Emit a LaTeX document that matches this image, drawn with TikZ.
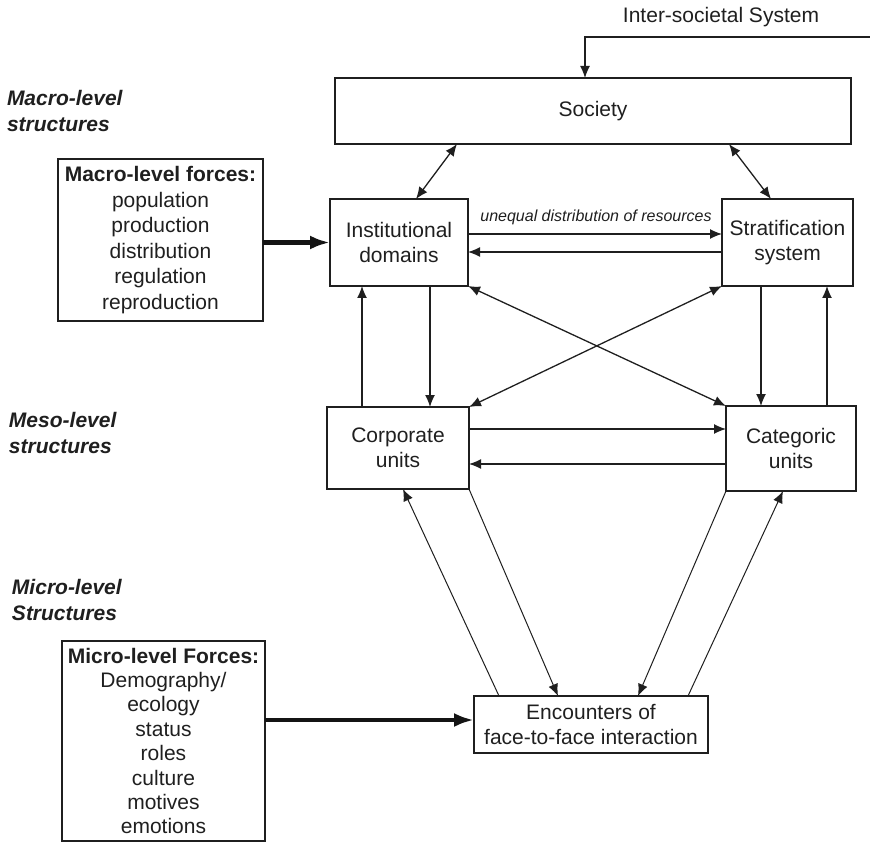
\documentclass[tikz,border=0pt]{standalone}
\usepackage{fontspec}
\setmainfont{Liberation Sans}
\usetikzlibrary{arrows.meta,calc}
\begin{document}
\begin{tikzpicture}[x=1pt,y=-1pt,
  every node/.style={inner sep=0pt, outer sep=0pt, font=\fontsize{21}{25.5}\selectfont, text=black!88},
  box/.style={draw=black!88, line width=1.3pt, align=center},
  arr/.style={draw=black!88, line width=1.3pt, -{Latex[length=12pt,width=10pt]}},
  darr/.style={draw=black!88, line width=1.3pt, {Latex[length=12pt,width=10pt]}-{Latex[length=12pt,width=10pt]}},
  tarr/.style={draw=black!88, line width=1pt, -{Latex[length=12pt,width=10pt]}},
  tline/.style={draw=black!88, line width=1pt},
  fat/.style={draw=black!92, line width=4.5pt, -{Latex[length=20pt,width=14pt]}},
  lvl/.style={anchor=west, align=left, font=\fontsize{21}{25.5}\selectfont\bfseries\itshape}
]
\useasboundingbox (0,0) rectangle (870,842);

% level labels
\node[lvl] (lmacro) at (7,111) {Macro-level\\structures};
\node[lvl] (lmeso) at (9,433) {Meso-level\\structures};
\node[lvl] (lmicro) at (12,600) {Micro-level\\Structures};

% boxes
\node[box, minimum width=516pt, minimum height=66pt] (soc) at (593,111) {Society};
\node[box, minimum width=138pt, minimum height=87pt] (inst) at (399,242.5) {Institutional\\domains};
\node[box, minimum width=131pt, minimum height=87pt] (strat) at (787.5,242.5) {Stratification\\system};
\node[box, minimum width=142pt, minimum height=82pt] (corp) at (398,448) {Corporate\\units};
\node[box, minimum width=130pt, minimum height=85pt] (cat) at (791,448.5) {Categoric\\units};
\node[box, minimum width=234pt, minimum height=57pt] (enc) at (591,724.5) {Encounters of\\face-to-face interaction};
\node[box, minimum width=205pt, minimum height=162pt] (macro) at (160.5,240)
  {\textbf{Macro-level forces:}\\population\\production\\distribution\\regulation\\reproduction};
\node[box, minimum width=203pt, minimum height=200pt, font=\fontsize{21}{24.4}\selectfont] (micro) at (163.5,741)
  {\textbf{Micro-level Forces:}\\Demography/\\ecology\\status\\roles\\culture\\motives\\emotions};

% inter-societal
\node (inter) at (721,17) {Inter-societal System};
\coordinate (isR) at (870,37);
\draw[arr] (isR) -| ([xshift=-8pt]soc.north);

% society links
\draw[darr] ([xshift=-136pt]soc.south) -- ([xshift=17pt]inst.north);
\draw[darr] ([xshift=136pt]soc.south) -- ([xshift=-16.5pt]strat.north);

% institutional <-> stratification
\draw[arr] ([yshift=8.5pt]inst.east) -- ([yshift=8.5pt]inst.east -| strat.west);
\draw[arr] ([yshift=-9.5pt]strat.west) -- ([yshift=-9.5pt]strat.west -| inst.east);
\node[font=\fontsize{16}{19}\selectfont\itshape] (lbl) at (596,217) {unequal distribution of resources};

% macro forces
\draw[fat] (macro.east |- inst.west) -- (inst.west);

% vertical links
\draw[arr] ([xshift=-36pt]corp.north) -- ([xshift=-36pt]corp.north |- inst.south);
\draw[arr] ([xshift=31pt]inst.south) -- ([xshift=31pt]inst.south |- corp.north);
\draw[arr] ([xshift=-26.5pt]strat.south) -- ([xshift=-26.5pt]strat.south |- cat.north);
\draw[arr] ([xshift=36pt]cat.north) -- ([xshift=36pt]cat.north |- strat.south);

% crossing
\draw[darr] (inst.south east) -- (cat.north west);
\draw[darr] (strat.south west) -- (corp.north east);

% corporate <-> categoric
\draw[arr] ([yshift=19pt]corp.east) -- ([yshift=19pt]corp.east -| cat.west);
\draw[arr] ([yshift=-15.5pt]cat.west) -- ([yshift=-15.5pt]cat.west -| corp.east);

% encounters links
\draw[tarr] ([xshift=-92pt]enc.north) -- ([xshift=5pt]corp.south);
\draw[tarr] (corp.south east) -- ([xshift=-33pt]enc.north);
\draw[tarr] (cat.south west) -- ([xshift=47pt]enc.north);
\draw[tarr] ([xshift=97pt]enc.north) -- ([xshift=-8pt]cat.south);

% micro forces
\draw[fat] ([yshift=4.5pt]micro.east |- enc.west) -- ([yshift=4.5pt]enc.west);
\end{tikzpicture}
\end{document}
